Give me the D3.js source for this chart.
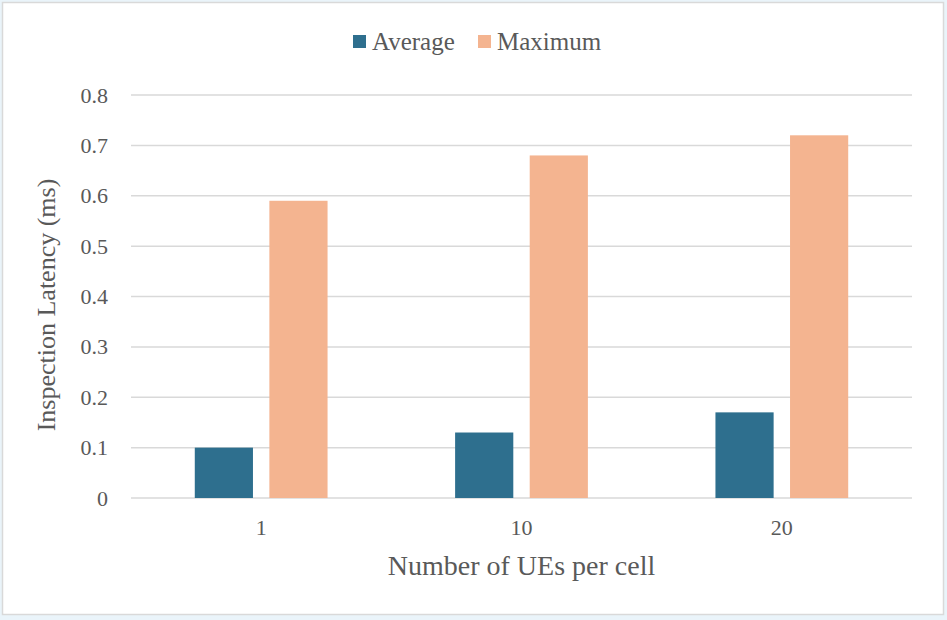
<!DOCTYPE html>
<html>
<head>
<meta charset="utf-8">
<script src="https://cdn.jsdelivr.net/npm/d3@7"></script>
<style>
  body { margin: 0; background: #eaf4fa; }
</style>
</head>
<body>
<div id="chart-area"></div>
<script>
// data
var categories = ['1', '10', '20'];
var seriesNames = ['Average', 'Maximum'];
var averageValues = [0.10, 0.13, 0.17];
var maximumValues = [0.59, 0.68, 0.72];
var yTicks = [0, 0.1, 0.2, 0.3, 0.4, 0.5, 0.6, 0.7, 0.8];
var colors = ['#2e6f8e', '#f4b490'];

var FONT = 'Liberation Serif';
var TEXT = '#595959';

var W = 947, H = 620;
var margin = {left: 131, right: 35, top: 95, bottom: 122};
var width = W - margin.left - margin.right,
    height = H - margin.top - margin.bottom;

var svg = d3.select('#chart-area')
    .append('svg')
        .attr('width', W)
        .attr('height', H)
        .attr('font-family', FONT);

// chart frame
svg.append('rect')
    .attr('x', 2.5)
    .attr('y', 2.5)
    .attr('width', W - 6)
    .attr('height', H - 8)
    .attr('fill', '#fff')
    .attr('stroke', '#d9d9d9')
    .attr('stroke-width', 1.5);

var g = svg.append('g')
    .attr('transform', 'translate(' + margin.left + ',' + margin.top + ')');

// scales
var x0 = d3.scaleBand()
    .domain(categories)
    .range([0, width])
    .paddingInner(0.49)
    .paddingOuter(0.245);

var x1 = d3.scaleBand()
    .domain(seriesNames)
    .range([0, x0.bandwidth()])
    .paddingInner(0.22);

var y = d3.scaleLinear()
    .domain([0, 0.8])
    .range([height, 0]);

// gridlines
g.append('g')
    .selectAll('line')
    .data(yTicks)
    .enter()
    .append('line')
        .attr('x1', 0)
        .attr('x2', width)
        .attr('y1', function(d){ return y(d); })
        .attr('y2', function(d){ return y(d); })
        .attr('stroke', '#d9d9d9')
        .attr('stroke-width', 1.5);

// y axis
var yAxisCall = d3.axisLeft(y)
    .tickValues(yTicks)
    .tickSize(0)
    .tickPadding(23)
    .tickFormat(function(d){ return d === 0 ? '0' : d3.format('.1f')(d); });
var yAxis = g.append('g').call(yAxisCall)
    .attr('font-family', FONT)
    .attr('font-size', 22);
yAxis.select('.domain').remove();
yAxis.selectAll('text').attr('fill', TEXT);

// x axis
var xAxisCall = d3.axisBottom(x0).tickSize(0).tickPadding(21);
var xAxis = g.append('g')
    .attr('transform', 'translate(0,' + height + ')')
    .call(xAxisCall)
    .attr('font-family', FONT)
    .attr('font-size', 22);
xAxis.select('.domain').remove();
xAxis.selectAll('text').attr('fill', TEXT);

// bars
var rows = categories.map(function(c, i){
    return {cat: c, values: [averageValues[i], maximumValues[i]]};
});

var groups = g.selectAll('.group')
    .data(rows)
    .enter()
    .append('g')
        .attr('class', 'group')
        .attr('transform', function(d){ return 'translate(' + x0(d.cat) + ',0)'; });

groups.selectAll('rect')
    .data(function(d){ return d.values.map(function(v, j){ return {name: seriesNames[j], value: v, color: colors[j]}; }); })
    .enter()
    .append('rect')
        .attr('x', function(d){ return x1(d.name); })
        .attr('width', x1.bandwidth())
        .attr('y', function(d){ return y(d.value); })
        .attr('height', function(d){ return height - y(d.value); })
        .attr('fill', function(d){ return d.color; });

// axis titles
svg.append('text')
    .attr('x', margin.left + width / 2)
    .attr('y', 575)
    .attr('font-size', 28)
    .attr('fill', TEXT)
    .attr('text-anchor', 'middle')
    .text('Number of UEs per cell');

svg.append('text')
    .attr('transform', 'translate(55,305) rotate(-90)')
    .attr('font-size', 26)
    .attr('fill', TEXT)
    .attr('text-anchor', 'middle')
    .text('Inspection Latency (ms)');

// legend
var legendX = [353, 478];
var legend = svg.selectAll('.legend')
    .data(seriesNames)
    .enter()
    .append('g')
        .attr('class', 'legend')
        .attr('transform', function(d, i){ return 'translate(' + legendX[i] + ',35)'; });

legend.append('rect')
    .attr('width', 13)
    .attr('height', 13)
    .attr('fill', function(d, i){ return colors[i]; });

legend.append('text')
    .attr('x', 19)
    .attr('y', 15)
    .attr('font-size', 25)
    .attr('fill', TEXT)
    .text(function(d){ return d; });
</script>
</body>
</html>
